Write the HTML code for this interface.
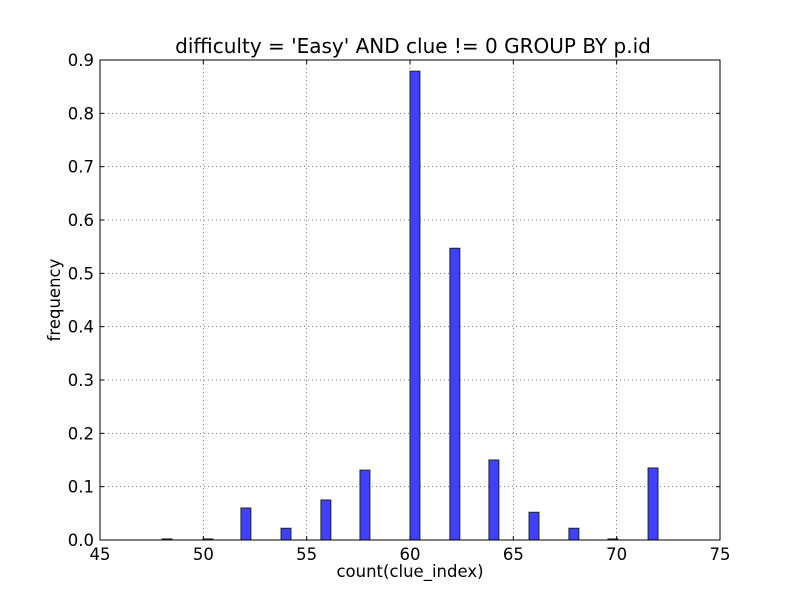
<!DOCTYPE html>
<html><head><meta charset="utf-8"><style>
body{margin:0;background:#fff;}
svg text{font-family:"DejaVu Sans","Liberation Sans",sans-serif;}
</style></head><body>
<svg id="c" width="800" height="600" xmlns="http://www.w3.org/2000/svg">
<rect width="800" height="600" fill="#fff"/>
</svg>
<script>
const xs=[48.0,49.98,51.82,53.76,55.69,57.58,60.0,61.93,63.82,65.76,67.69,69.58,71.52];
const freqs=[0.002,0.002,0.06,0.022,0.075,0.131,0.879,0.547,0.15,0.052,0.022,0.002,0.135];
const xTicks=[45,50,55,60,65,70,75];
const yTicks=[0,0.1,0.2,0.3,0.4,0.5,0.6,0.7,0.8,0.9];
const barW=0.48;
const L=100,R=720,T=60,B=540;
const sx=v=>L+(v-45)/30*(R-L);
const sy=v=>B-v/0.9*(B-T);
const svg=document.getElementById('c');
const NS='http://www.w3.org/2000/svg';
function mk(t,a,p){const e=document.createElementNS(NS,t);for(const k in a)e.setAttribute(k,a[k]);(p||svg).appendChild(e);return e;}
xTicks.forEach(v=>{if(v>45&&v<75){const g=mk('line',{x1:sx(v),x2:sx(v),y1:T,y2:B,stroke:'#000','stroke-width':0.5,'stroke-dasharray':'1,3'});

}});
yTicks.forEach(v=>{if(v>0&&v<0.9){const g=mk('line',{x1:L,x2:R,y1:sy(v),y2:sy(v),stroke:'#000','stroke-width':0.5,'stroke-dasharray':'1,3'});

}});
xs.forEach((x,i)=>{const r=mk('rect',{x:sx(x),y:sy(freqs[i]),width:sx(x+barW)-sx(x),height:B-sy(freqs[i]),fill:'#4040ff',stroke:'#222','stroke-width':1});

});
const f=mk('rect',{x:L,y:T,width:R-L,height:B-T,fill:'none',stroke:'#000','stroke-width':1});


xTicks.forEach(v=>{mk('line',{x1:sx(v),x2:sx(v),y1:B,y2:B-4,stroke:'#000'});mk('line',{x1:sx(v),x2:sx(v),y1:T,y2:T+4,stroke:'#000'});
const t=mk('text',{x:sx(v),y:B+20,'text-anchor':'middle','font-size':16.5});t.textContent=v;

});
yTicks.forEach(v=>{mk('line',{x1:L,x2:L+4,y1:sy(v),y2:sy(v),stroke:'#000'});mk('line',{x1:R,x2:R-4,y1:sy(v),y2:sy(v),stroke:'#000'});
const t=mk('text',{x:L-6,y:sy(v)+6,'text-anchor':'end','font-size':16.5});t.textContent=v.toFixed(1);

});
const ti=mk('text',{x:413,y:53,'text-anchor':'middle','font-size':20});ti.textContent="difficulty = 'Easy' AND clue != 0 GROUP BY p.id";


const xl=mk('text',{x:410,y:577,'text-anchor':'middle','font-size':16.5});xl.textContent='count(clue_index)';


const yl=mk('text',{x:60,y:300,'text-anchor':'middle','font-size':16.5,transform:'rotate(-90 60 300)'});yl.textContent='frequency';


</script>
</body></html>
